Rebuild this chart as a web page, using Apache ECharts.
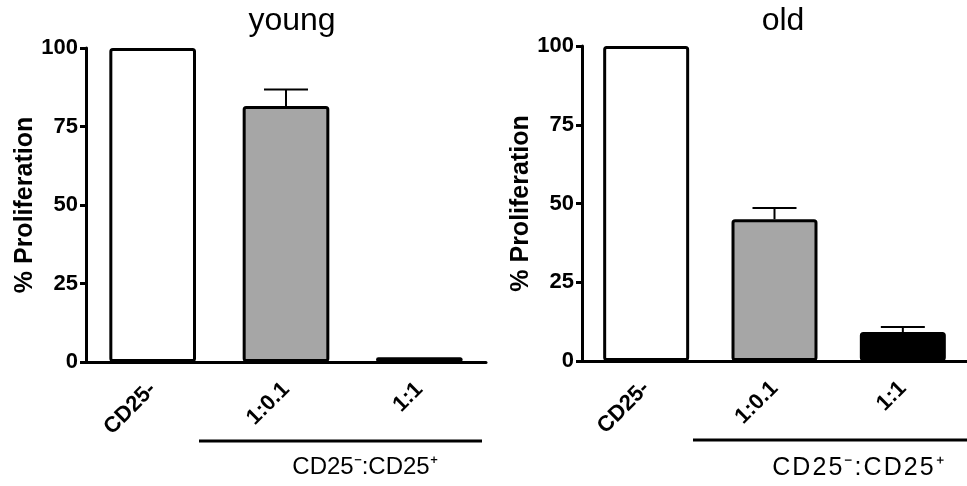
<!DOCTYPE html>
<html><head><meta charset="utf-8">
<script src="https://cdn.jsdelivr.net/npm/echarts@6/dist/echarts.min.js"></script>
<style>html,body{margin:0;padding:0;background:#fff}#c{width:967px;height:486px}</style>
</head><body><div id="c"></div>
<script>
const categories = ['CD25-', '1:0.1', '1:1'];
const youngValues = [100, 81.5, 1.5];
const youngErrUpper = [100, 86.8, 1.5];
const oldValues = [100, 45, 9.2];
const oldErrUpper = [100, 48.6, 10.8];
const barColors = ['#ffffff', '#a6a6a6', '#000000'];
const yTicks = [0, 25, 50, 75, 100];
const titles = ['young', 'old'];
const groupLabel = 'CD25\u207B:CD25\u207A';

const chart = echarts.init(document.getElementById('c'));
const font = 'Liberation Sans, Arial, sans-serif';

function barData(vals) {
  return vals.map((v, i) => ({ value: v, itemStyle: { color: barColors[i] } }));
}
function errData(vals, ups) {
  return vals.map((v, i) => [i, v, ups[i]]);
}
function errRender(params, api) {
  const x = api.value(0), m = api.value(1), u = api.value(2);
  if (u - m < 0.01) return null;
  const p0 = api.coord([x, m]);
  const p1 = api.coord([x, u]);
  const hw = 22;
  return {
    type: 'group',
    children: [
      { type: 'line', shape: { x1: p0[0], y1: p0[1], x2: p1[0], y2: p1[1] }, style: { stroke: '#000', lineWidth: 2 } },
      { type: 'line', shape: { x1: p1[0] - hw, y1: p1[1], x2: p1[0] + hw, y2: p1[1] }, style: { stroke: '#000', lineWidth: 2 } }
    ]
  };
}

function xAxis(gi) {
  return {
    type: 'category', gridIndex: gi, data: categories,
    axisLine: { lineStyle: { color: '#000', width: 3 } },
    axisTick: { alignWithLabel: true, length: 8, lineStyle: { color: '#000', width: 3 } },
    axisLabel: { rotate: 45, margin: 24, color: '#000', fontFamily: font, fontWeight: 'bold', fontSize: 22 }
  };
}
function yAxis(gi) {
  return {
    type: 'value', gridIndex: gi, min: 0, max: 100, interval: 25,
    name: '% Proliferation', nameLocation: 'middle', nameGap: 46,
    nameTextStyle: { color: '#000', fontFamily: font, fontWeight: 'bold', fontSize: 25 },
    axisLine: { show: true, lineStyle: { color: '#000', width: 3 } },
    axisTick: { show: true, length: 6, lineStyle: { color: '#000', width: 3 } },
    axisLabel: { margin: 8, color: '#000', fontFamily: font, fontWeight: 'bold', fontSize: 22,
      formatter: v => yTicks.includes(v) ? String(v) : '' },
    splitLine: { show: false }
  };
}

chart.setOption({
  animation: false,
  title: [
    { text: titles[0], left: 287, top: 0, textAlign: 'center', textStyle: { fontFamily: font, fontWeight: 'normal', fontSize: 32, color: '#000' } },
    { text: titles[1], left: 778, top: 0, textAlign: 'center', textStyle: { fontFamily: font, fontWeight: 'normal', fontSize: 32, color: '#000' } }
  ],
  grid: [
    { left: 86, width: 400, top: 48, height: 314 },
    { left: 582, width: 393, top: 46, height: 315 }
  ],
  xAxis: [xAxis(0), xAxis(1)],
  yAxis: [yAxis(0), yAxis(1)],
  series: [
    { type: 'bar', xAxisIndex: 0, yAxisIndex: 0, barWidth: '65%', data: barData(youngValues),
      itemStyle: { borderColor: '#000', borderWidth: 3, borderRadius: 2 } },
    { type: 'custom', xAxisIndex: 0, yAxisIndex: 0, renderItem: errRender, data: errData(youngValues, youngErrUpper), z: 1 },
    { type: 'bar', xAxisIndex: 1, yAxisIndex: 1, barWidth: '67%', data: barData(oldValues),
      itemStyle: { borderColor: '#000', borderWidth: 3, borderRadius: 2 } },
    { type: 'custom', xAxisIndex: 1, yAxisIndex: 1, renderItem: errRender, data: errData(oldValues, oldErrUpper), z: 1 }
  ],
  graphic: [
    { type: 'line', shape: { x1: 199, y1: 441, x2: 482, y2: 441 }, style: { stroke: '#000', lineWidth: 3 } },
    { type: 'line', shape: { x1: 693, y1: 440, x2: 967, y2: 440 }, style: { stroke: '#000', lineWidth: 3 } },
    { type: 'text', x: 365, y: 479, style: { text: groupLabel, fontFamily: font, fontSize: 24, fill: '#000', align: 'center', verticalAlign: 'bottom' } },
    { type: 'text', x: 858, y: 481, style: { text: groupLabel.split('').join('\u200A'), fontFamily: font, fontSize: 25, fill: '#000', align: 'center', verticalAlign: 'bottom' } }
  ]
});
</script></body></html>
